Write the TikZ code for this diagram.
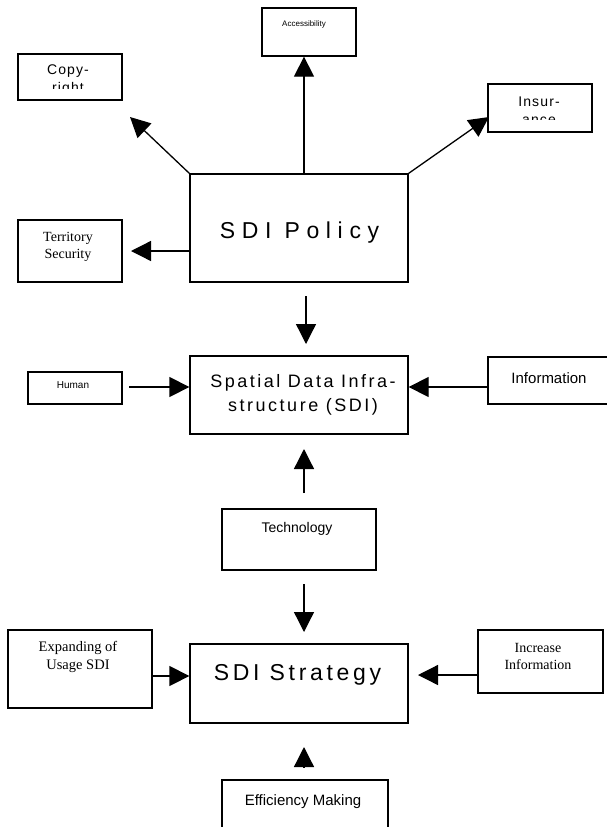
\documentclass[tikz,border=0pt]{standalone}
\usepackage{fontspec}
\setmainfont{Liberation Sans}
\newfontfamily\seriffont{Liberation Serif}
\newfontfamily\wideA[LetterSpace=29]{Liberation Sans}
\newfontfamily\wideS[LetterSpace=16]{Liberation Sans}
\newfontfamily\wideB[LetterSpace=14]{Liberation Sans}
\newfontfamily\wideC[LetterSpace=8]{Liberation Sans}
\usetikzlibrary{arrows.meta}
\tikzset{
  box/.style={draw, line width=1.3pt, rectangle, inner sep=0pt},
  conn/.style={line width=1.3pt, -{Triangle[length=20pt,width=20pt]}},
  txt/.style={inner sep=0pt, align=center},
}
\begin{document}
\begin{tikzpicture}[x=1pt,y=-1pt]
\useasboundingbox (0,0) rectangle (607,827);
\clip (0,0) rectangle (607,827);
% boxes
\node[box, minimum width=94, minimum height=48] (acc) at (309,32) {};
\node[box, minimum width=104, minimum height=46] (copy) at (70,77) {};
\node[box, minimum width=104, minimum height=48] (ins) at (540,108) {};
\node[box, minimum width=218, minimum height=108] (pol) at (299,228) {};
\node[box, minimum width=104, minimum height=62] (ter) at (70,251) {};
\node[box, minimum width=94, minimum height=32] (hum) at (75,388) {};
\node[box, minimum width=218, minimum height=78] (sdi) at (299,395) {};
\node[box, minimum width=127, minimum height=47] (inf) at (551.5,380.5) {};
\node[box, minimum width=154, minimum height=61] (tech) at (299,539.5) {};
\node[box, minimum width=144, minimum height=78] (exp) at (80,669) {};
\node[box, minimum width=218, minimum height=79] (str) at (299,683.5) {};
\node[box, minimum width=125, minimum height=63] (inc) at (540.5,661.5) {};
\node[box, minimum width=166, minimum height=70] (eff) at (305,815) {};
% texts
\node[txt, font=\fontsize{8}{10}\selectfont] (acct) at (304,24) {Accessibility};
\begin{scope}
\clip (18,54) rectangle (122,88.5);
\node[txt, font=\wideC\fontsize{14}{18}\selectfont] (copyt) at (68,80) {Copy-\\right};
\end{scope}
\begin{scope}
\clip (488,84) rectangle (592,119.5);
\node[txt, font=\wideC\fontsize{14}{18}\selectfont] (inst) at (539,110.5) {Insur-\\ance};
\end{scope}
\node[txt, font=\wideA\fontsize{23}{28}\selectfont] (polt) at (299.5,233) {SDI Policy};
\node[txt, font=\seriffont\fontsize{14}{17}\selectfont] (tert) at (68,246.5) {Territory\\Security};
\node[txt, font=\fontsize{10}{12}\selectfont] (humt) at (73,385) {Human};
\node[txt, font=\wideB\fontsize{18}{24}\selectfont] (sdit) at (303,394.5) {Spatial Data Infra-\\structure (SDI)};
\node[txt, font=\fontsize{15}{18}\selectfont] (inft) at (549,378) {Information};
\node[txt, font=\fontsize{14}{17}\selectfont] (techt) at (297,529) {Technology};
\node[txt, font=\wideS\fontsize{23}{28}\selectfont] (strt) at (297.5,675) {SDI Strategy};
\node[txt, font=\seriffont\fontsize{14.5}{18}\selectfont] (expt) at (78,657) {Expanding of\\Usage SDI};
\node[txt, font=\seriffont\fontsize{14}{17}\selectfont] (inct) at (538,656.5) {Increase\\Information};
\node[txt, font=\fontsize{15}{18}\selectfont] (efft) at (303,802) {Efficiency Making};
% connector ends
\coordinate (copytip) at (130,117);
\coordinate (insttip) at (489,117);
\coordinate (accfoot) at (304,174);
\coordinate (tertip) at (131,251);
\coordinate (poltail) at (306,296);
\coordinate (sditip) at (306,344);
\coordinate (humtail) at (129,387);
\coordinate (inftail) at (488,387);
\coordinate (techup) at (304,493);
\coordinate (sdibot) at (304,449);
\coordinate (techdn) at (304,584);
\coordinate (strtop) at (304,632);
\coordinate (exptail) at (152,676);
\coordinate (inctail) at (478,675);
\coordinate (inctip) at (418,675);
\coordinate (effup) at (304,767);
\coordinate (strbot) at (304,747);
% connectors
\draw[conn] (pol.north west) -- (copytip);
\draw[conn] (accfoot) -- (accfoot |- acc.south);
\draw[conn] (pol.north east) -- (insttip);
\draw[conn] (tertip -| pol.west) -- (tertip);
\draw[conn] (poltail) -- (sditip);
\draw[conn] (humtail) -- (humtail -| sdi.west);
\draw[conn] (inftail) -- (inftail -| sdi.east);
\draw[conn] (techup) -- (sdibot);
\draw[conn] (techdn) -- (strtop);
\draw[conn] (exptail) -- (exptail -| str.west);
\draw[conn] (inctail) -- (inctip);
\draw[conn] (effup) -- (strbot);
\end{tikzpicture}
\end{document}
